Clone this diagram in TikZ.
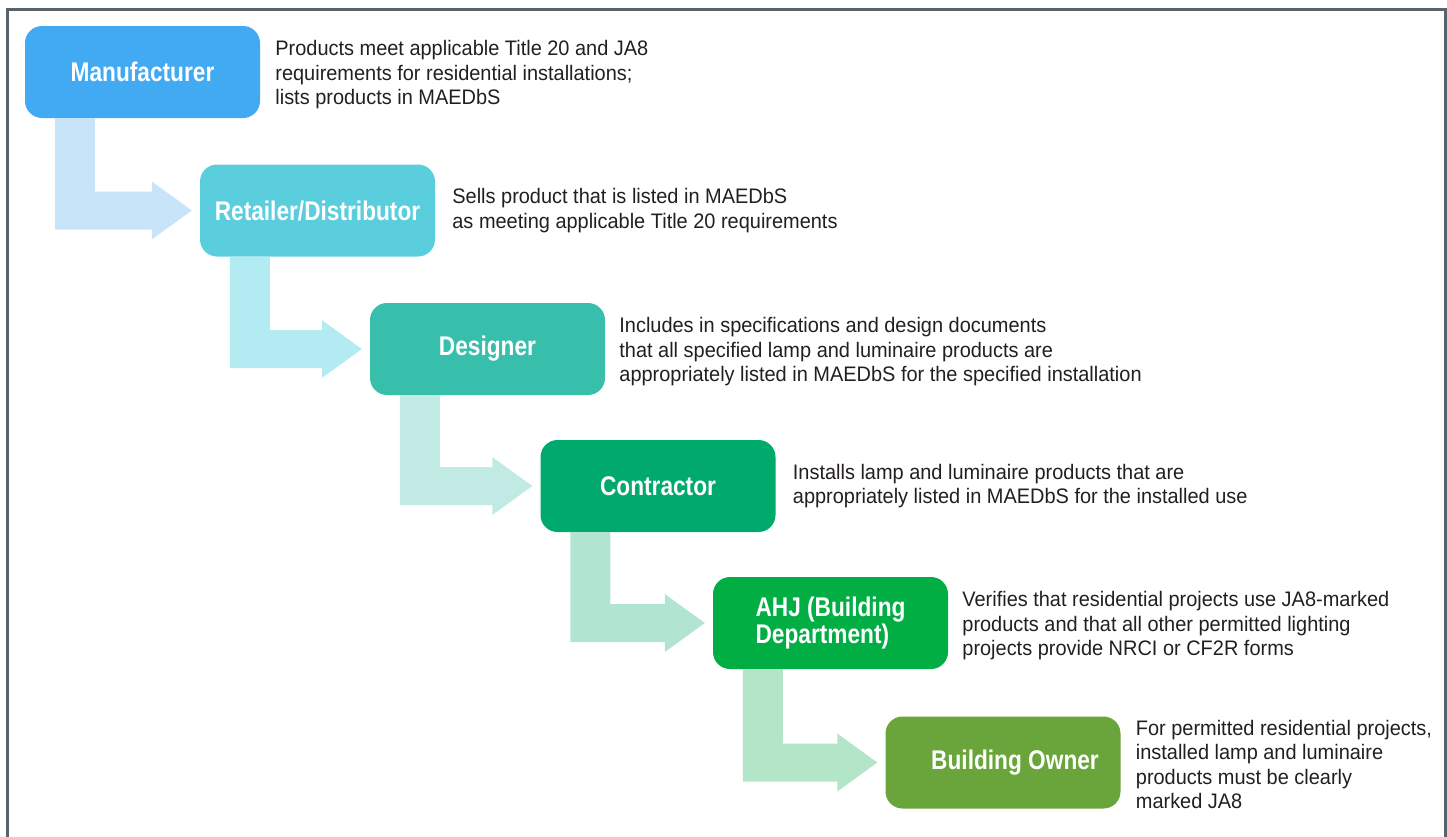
\documentclass[tikz,border=0pt]{standalone}
\usepackage{fontspec}
\setmainfont{Liberation Sans}[FakeStretch=0.95]
\newfontfamily\titlefont{Liberation Sans}[FakeStretch=0.84]
\usepackage{tikz}
\usetikzlibrary{calc}

\definecolor{frameC}{HTML}{58636C}
\definecolor{textC}{HTML}{231F20}
\definecolor{manuC}{HTML}{42A9F3}
\definecolor{retaC}{HTML}{5BCEDE}
\definecolor{desiC}{HTML}{37BFAC}
\definecolor{contC}{HTML}{00A96C}
\definecolor{ahjC}{HTML}{00AE44}
\definecolor{ownC}{HTML}{6AA53B}
\definecolor{arrA}{HTML}{C7E4F9}
\definecolor{arrB}{HTML}{B3EBF2}
\definecolor{arrC}{HTML}{C2EAE4}
\definecolor{arrD}{HTML}{B2E5D1}
\definecolor{arrE}{HTML}{B3E6C8}

\tikzset{
  stage/.style={rounded corners=17pt, minimum width=235pt, minimum height=92pt,
    inner sep=0pt, text=white, align=left,
    font=\titlefont\bfseries\fontsize{27}{25}\selectfont},
  desc/.style={anchor=west, inner sep=0pt, text=textC, align=left,
    font=\fontsize{21}{24.5}\selectfont}
}

\begin{document}
\begin{tikzpicture} [x=1pt,y=-1pt]
\useasboundingbox (0,0) rectangle (1447,836);

\draw[frameC, line width=3pt] (7,838) -- (7,9) -- (1445,9) -- (1445,838);

\node[stage, fill=manuC] (manu) at (142.5,72) {Manufacturer};
\node[stage, fill=retaC] (reta) at (317.5,210.5) {Retailer/Distributor};
\node[stage, fill=desiC] (desi) at (487.5,349) {Designer};
\node[stage, fill=contC] (cont) at (658,486) {Contractor};
\node[stage, fill=ahjC]  (ahj)  at (830.5,623) {AHJ (Building\\Department)};
\node[stage, fill=ownC]  (own)  at (1003,762.5) {\hspace*{24pt}Building Owner};

\node[desc] (manutext) at ($(manu.east)+(15,3)$) {Products meet applicable Title 20 and JA8\\requirements for residential installations;\\lists products in MAEDbS};
\node[desc] (retatext) at ($(reta.east)+(17,0)$) {Sells product that is listed in MAEDbS\\as meeting applicable Title 20 requirements};
\node[desc] (desitext) at ($(desi.east)+(14,3)$) {Includes in specifications and design documents\\that all specified lamp and luminaire products are\\appropriately listed in MAEDbS for the specified installation};
\node[desc] (conttext) at ($(cont.east)+(17,0)$) {Installs lamp and luminaire products that are\\appropriately listed in MAEDbS for the installed use};
\node[desc] (ahjtext)  at ($(ahj.east)+(14,3)$) {Verifies that residential projects use JA8-marked\\products and that all other permitted lighting\\projects provide NRCI or CF2R forms};
\node[desc] (owntext)  at ($(own.east)+(15,2)$) {For permitted residential projects,\\installed lamp and luminaire\\products must be clearly\\marked JA8};

\foreach \a/\b/\c in {manu/reta/arrA, reta/desi/arrB, desi/cont/arrC, cont/ahj/arrD, ahj/own/arrE}
  \fill[\c] let \p1=($(\a.south west)+(30,0)$), \p2=($(\b.west)+(-8,0)$) in
    (\x1,\y1) -- (\x1+40pt,\y1) -- (\x1+40pt,\y2+19pt) -- (\x2-40pt,\y2+19pt)
    -- (\x2-40pt,\y2+29pt) -- (\x2,\y2) -- (\x2-40pt,\y2-29pt)
    -- (\x2-40pt,\y2-19pt) -- (\x1,\y2-19pt) -- cycle;

\end{tikzpicture}
\end{document}
